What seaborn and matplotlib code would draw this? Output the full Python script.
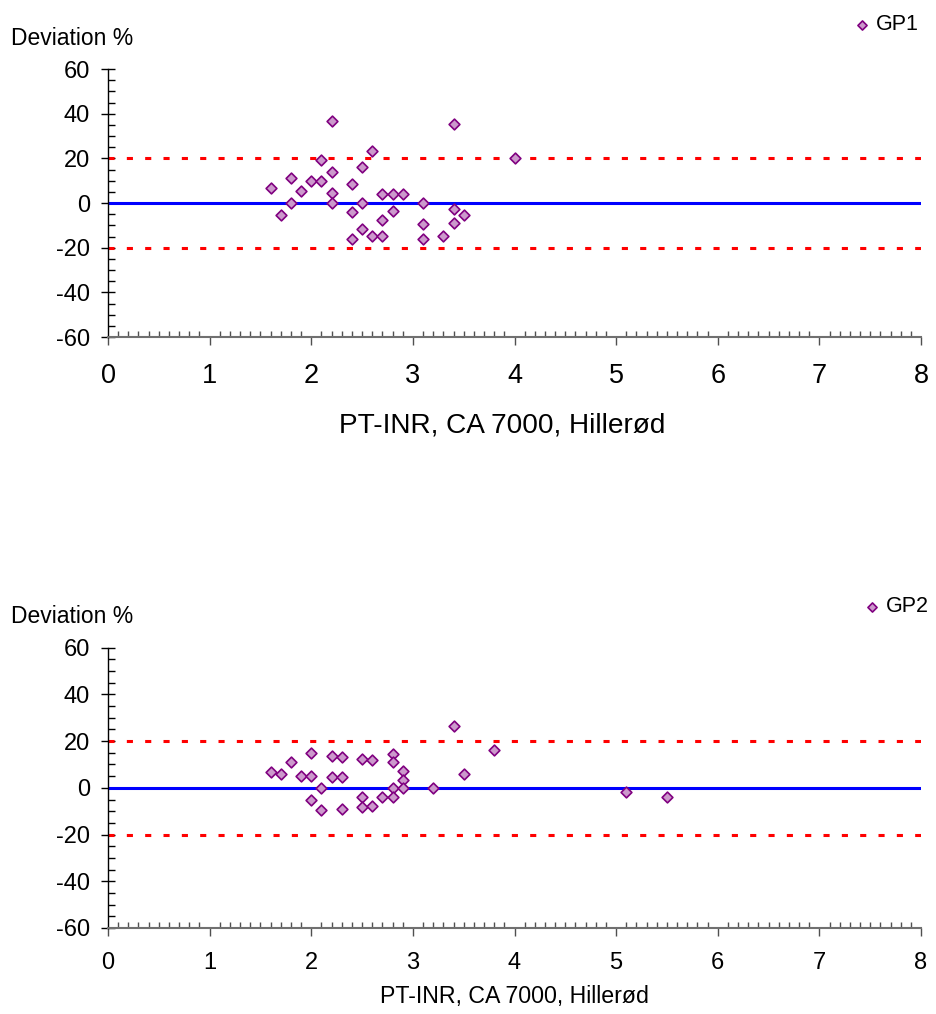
import matplotlib
matplotlib.use("Agg")
import matplotlib.pyplot as plt
import seaborn as sns
import pandas as pd
from matplotlib.ticker import MultipleLocator

# ---- data ----
gp1_x = [1.6, 1.7, 1.8, 1.8, 1.9, 2.0, 2.1, 2.1, 2.2, 2.2, 2.2, 2.2, 2.4, 2.4, 2.4,
         2.5, 2.6, 2.5, 2.5, 2.6, 2.7, 2.8, 2.9, 2.7, 2.7, 2.8, 3.1, 3.1, 3.1, 3.3,
         3.4, 3.4, 3.4, 3.5, 4.0]
gp1_y = [6.6, -5.5, 11.2, 0.0, 5.2, 10.0, 10.0, 19.4, 36.7, 14.0, 4.6, 0.0, 8.6, -4.2, -16.1,
         16.0, 23.4, 0.0, -11.5, -14.8, 3.9, 3.9, 3.9, -7.6, -14.8, -3.6, 0.0, -9.6, -16.1, -14.8,
         35.4, -2.8, -8.8, -5.5, 20.0]

gp2_x = [1.6, 1.7, 1.8, 1.9, 2.0, 2.0, 2.0, 2.1, 2.1, 2.2, 2.2, 2.3, 2.3, 2.3, 2.5, 2.5,
         2.5, 2.6, 2.6, 2.7, 2.8, 2.8, 2.8, 2.8, 2.9, 2.9, 2.9, 3.2, 3.4, 3.5, 3.8, 5.1, 5.5]
gp2_y = [6.7, 5.9, 11.0, 5.2, 15.1, 5.2, -5.0, 0.0, -9.5, 13.6, 4.6, 13.1, 4.6, -8.9, 12.3, -3.8,
         -8.4, 11.8, -7.6, -3.8, 14.4, 11.0, 0.0, -3.8, 7.2, 3.3, 0.0, 0.0, 26.6, 5.9, 16.2, -1.9, -3.8]

limit_lines = [20, -20]
x_ticks = [0, 1, 2, 3, 4, 5, 6, 7, 8]
y_ticks = [-60, -40, -20, 0, 20, 40, 60]
xlabel_text = "PT-INR, CA 7000, Hillerød"
ylabel_text = "Deviation %"

sns.set_style("white")
plt.rcParams['font.family'] = ['Liberation Sans', 'DejaVu Sans']
plt.rcParams['axes.unicode_minus'] = False
plt.rcParams['text.color'] = 'black'
plt.rcParams['axes.labelcolor'] = 'black'
plt.rcParams['xtick.labelcolor'] = 'black'
plt.rcParams['ytick.labelcolor'] = 'black'

W, H = 936, 1014
fig = plt.figure(figsize=(W / 100, H / 100), dpi=100)

FACE = "#CC99CC"
EDGE = "#800080"


def make_panel(rect, xs, ys, name, tick_fs, tick_pad, xlab_fs, xlab_pad, ylab_y, leg_anchor):
    ax = fig.add_axes(rect)
    df = pd.DataFrame({"x": xs, "y": ys})
    ax.axhline(0, color="#0000FF", lw=2.2, zorder=1)
    for v in limit_lines:
        ax.axhline(v, color="#FF0000", lw=2.2, dashes=(2, 4), zorder=1)
    sns.scatterplot(data=df, x="x", y="y", ax=ax, marker="D", s=30,
                    color=FACE, edgecolor=EDGE, linewidth=1.2, zorder=3, label=name)
    ax.set_xlim(0, 8)
    ax.set_ylim(-60, 60)
    ax.set_xticks(x_ticks)
    ax.set_yticks(y_ticks)
    ax.xaxis.set_minor_locator(MultipleLocator(0.1))
    ax.yaxis.set_minor_locator(MultipleLocator(5))
    for s in ["top", "right"]:
        ax.spines[s].set_visible(False)
    ax.spines["left"].set_color("black")
    ax.spines["left"].set_linewidth(1.0)
    ax.spines["bottom"].set_color("#707070")
    ax.spines["bottom"].set_linewidth(1.5)
    ax.tick_params(axis="y", which="major", direction="inout", length=10, width=1,
                   color="black", labelsize=17, pad=8, left=True, labelcolor="black")
    ax.tick_params(axis="y", which="minor", direction="in", length=5, width=1,
                   color="black", left=True)
    ax.tick_params(axis="x", which="major", direction="out", length=5.5, width=1,
                   color="#505050", labelsize=tick_fs, pad=tick_pad, bottom=True,
                   labelcolor="black")
    ax.tick_params(axis="x", which="minor", direction="in", length=4.5, width=1,
                   color="#505050", bottom=True)
    ax.set_xlabel(xlabel_text, fontsize=xlab_fs, labelpad=xlab_pad, color="black")
    ax.set_ylabel("")
    ax.grid(False)
    fig.text(11 / W, ylab_y, ylabel_text, fontsize=16.5, va="baseline", ha="left",
             color="black")
    leg = ax.legend(loc="center left", bbox_to_anchor=leg_anchor,
                    bbox_transform=fig.transFigure,
                    frameon=False, fontsize=15.5, handlelength=1.0, handletextpad=0.15,
                    borderpad=0, borderaxespad=0, markerscale=0.85)
    for t in leg.get_texts():
        t.set_color("black")
    return ax


ax1 = make_panel([108 / W, 1 - 337 / H, 813 / W, 268 / H], gp1_x, gp1_y, "GP1",
                 tick_fs=19.5, tick_pad=13.5, xlab_fs=20.2, xlab_pad=13,
                 ylab_y=1 - 45 / H, leg_anchor=(851 / W, 1 - 25 / H))
ax1.xaxis.set_label_coords(0.485, -0.283)
ax1.xaxis.label.set_va("top")
make_panel([108 / W, 1 - 928 / H, 813 / W, 280.3 / H], gp2_x, gp2_y, "GP2",
           tick_fs=17, tick_pad=12, xlab_fs=16.7, xlab_pad=8,
           ylab_y=1 - 623 / H, leg_anchor=(861 / W, 1 - 607 / H))

fig.savefig("out.png", dpi=100)
